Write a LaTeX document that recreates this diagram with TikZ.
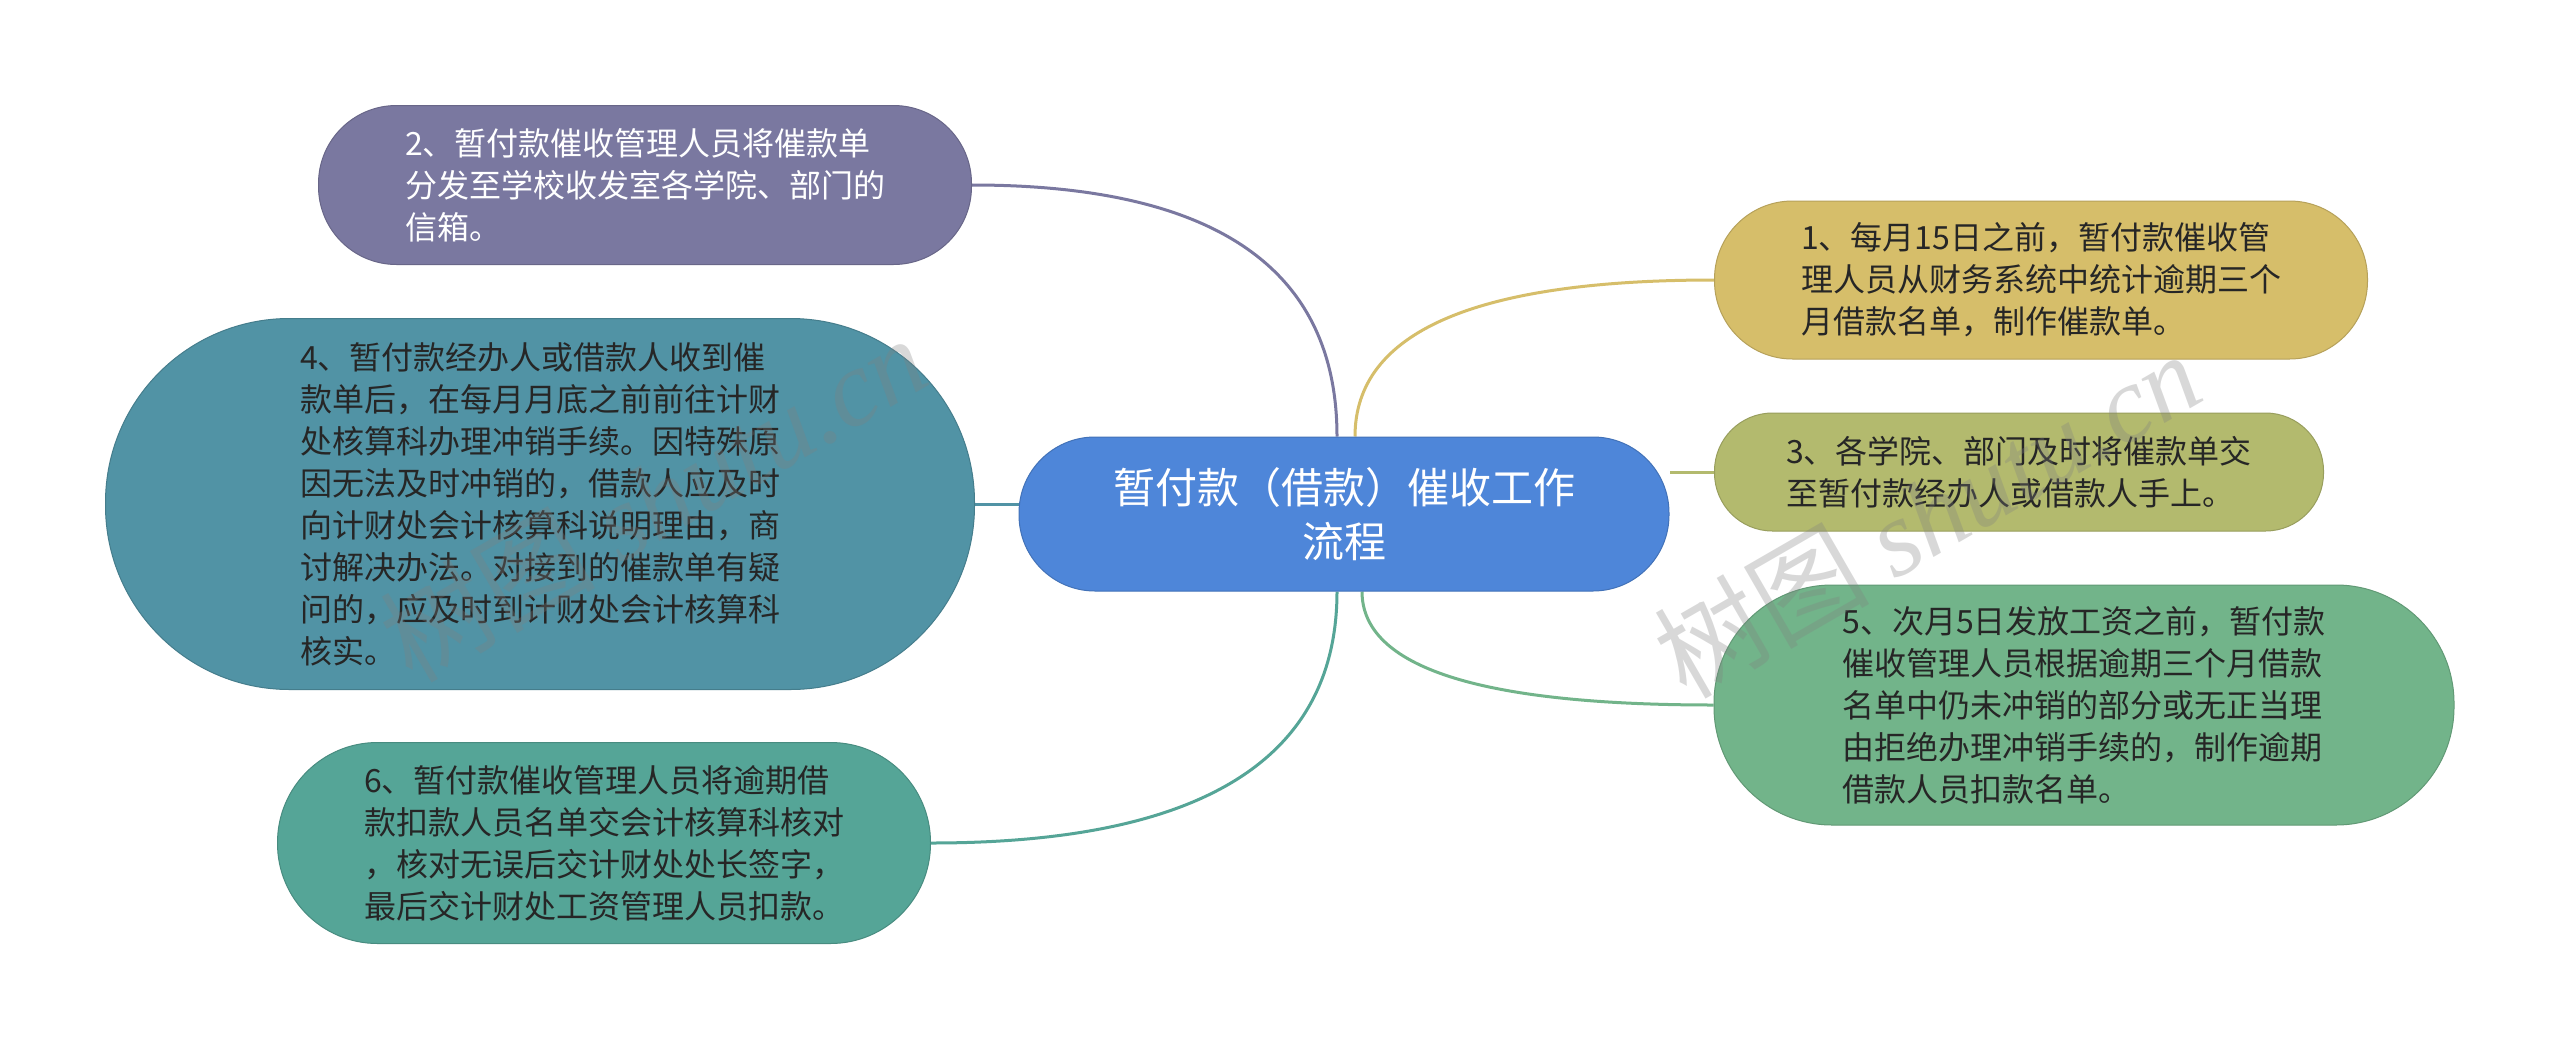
\documentclass[tikz,border=0pt]{standalone}
\usepackage{fontspec}
\newfontfamily\cjk{Noto Sans CJK SC}
\newfontfamily\wmserif{Liberation Serif}
\usetikzlibrary{backgrounds,calc}
\definecolor{cPurple}{HTML}{7A78A0}
\definecolor{cBlueTeal}{HTML}{5193A5}
\definecolor{cTeal}{HTML}{55A597}
\definecolor{cCentral}{HTML}{4E86D9}
\definecolor{cYellow}{HTML}{D6BE6A}
\definecolor{cOlive}{HTML}{B3BA6E}
\definecolor{cGreen}{HTML}{72B48A}
\definecolor{cDark}{HTML}{262626}
\tikzset{
  box/.style={draw=#1!85!black, fill=#1, line width=0.5pt, inner sep=0pt, align=left,
    font=\cjk\fontsize{16}{21}\selectfont, text=cDark},
  edge/.style={line width=1.5pt},
  wm/.style={text=gray, text opacity=0.3, font=\fontsize{54}{60}\selectfont, inner sep=0pt}
}
\begin{document}
\begin{tikzpicture}[x=0.5pt,y=-0.5pt]
\useasboundingbox (0,0) rectangle (2560,1050);

\node[box=cCentral, text=white, align=center, minimum width=325pt, minimum height=77pt,
  rounded corners=38pt, font=\cjk\fontsize{21}{27}\selectfont] (c) at (1344,514)
  {暂付款（借款）催收工作\\流程};

\node[box=cPurple, text=white, minimum width=326.5pt, minimum height=79.5pt,
  rounded corners=39pt] (n2) at (645,185)
  {2、暂付款催收管理人员将催款单\\分发至学校收发室各学院、部门的\\信箱。};

\node[box=cBlueTeal, minimum width=434.5pt, minimum height=185.5pt,
  rounded corners=92pt] (n4) at (540,504)
  {4、暂付款经办人或借款人收到催\\款单后，在每月月底之前前往计财\\处核算科办理冲销手续。因特殊原\\因无法及时冲销的，借款人应及时\\向计财处会计核算科说明理由，商\\讨解决办法。对接到的催款单有疑\\问的，应及时到计财处会计核算科\\核实。};

\node[box=cTeal, minimum width=326.5pt, minimum height=100.5pt,
  rounded corners=50pt] (n6) at (604,843)
  {6、暂付款催收管理人员将逾期借\\款扣款人员名单交会计核算科核对\\，核对无误后交计财处处长签字，\\最后交计财处工资管理人员扣款。};

\node[box=cYellow, minimum width=326.5pt, minimum height=79pt,
  rounded corners=39pt] (n1) at (2041,280)
  {1、每月15日之前，暂付款催收管\\理人员从财务系统中统计逾期三个\\月借款名单，制作催款单。};

\node[box=cOlive, minimum width=304.5pt, minimum height=59pt,
  rounded corners=29pt] (n3) at (2019,472)
  {3、各学院、部门及时将催款单交\\至暂付款经办人或借款人手上。};

\node[box=cGreen, minimum width=370pt, minimum height=120pt,
  rounded corners=59pt] (n5) at (2084,705)
  {5、次月5日发放工资之前，暂付款\\催收管理人员根据逾期三个月借款\\名单中仍未冲销的部分或无正当理\\由拒绝办理冲销手续的，制作逾期\\借款人员扣款名单。};

\coordinate (s2) at ([xshift=-3.5pt]c.north);
\coordinate (s1) at ([xshift=5.5pt]c.north);
\coordinate (s6) at ([xshift=-3.5pt]c.south);
\coordinate (s5) at ([xshift=9pt]c.south);

\begin{scope}[on background layer]
  \fill[white] (0,0) rectangle (2560,1050);
  \draw[edge, cPurple] (s2) .. controls ($(s2)!0.667!(s2 |- n2.east)$) and ($(n2.east)!0.667!(s2 |- n2.east)$) .. (n2.east);
  \draw[edge, cYellow] (s1) .. controls ($(s1)!0.667!(s1 |- n1.west)$) and ($(n1.west)!0.667!(s1 |- n1.west)$) .. (n1.west);
  \draw[edge, cTeal] (s6) .. controls ($(s6)!0.667!(s6 |- n6.east)$) and ($(n6.east)!0.667!(s6 |- n6.east)$) .. (n6.east);
  \draw[edge, cGreen] (s5) .. controls ($(s5)!0.667!(s5 |- n5.west)$) and ($(n5.west)!0.667!(s5 |- n5.west)$) .. (n5.west);
  \draw[edge, cBlueTeal] (n4.east) -- (n4.east -| c.west);
  \draw[edge, cOlive] (n3.west) -- (n3.west -| c.east);
\end{scope}

\node[wm, rotate=30] (wm1) at (653,498) {\cjk 树图 \wmserif\itshape shutu.cn};
\node[wm, rotate=30] (wm2) at (1927,514) {\cjk 树图 \wmserif\itshape shutu.cn};
\end{tikzpicture}
\end{document}
